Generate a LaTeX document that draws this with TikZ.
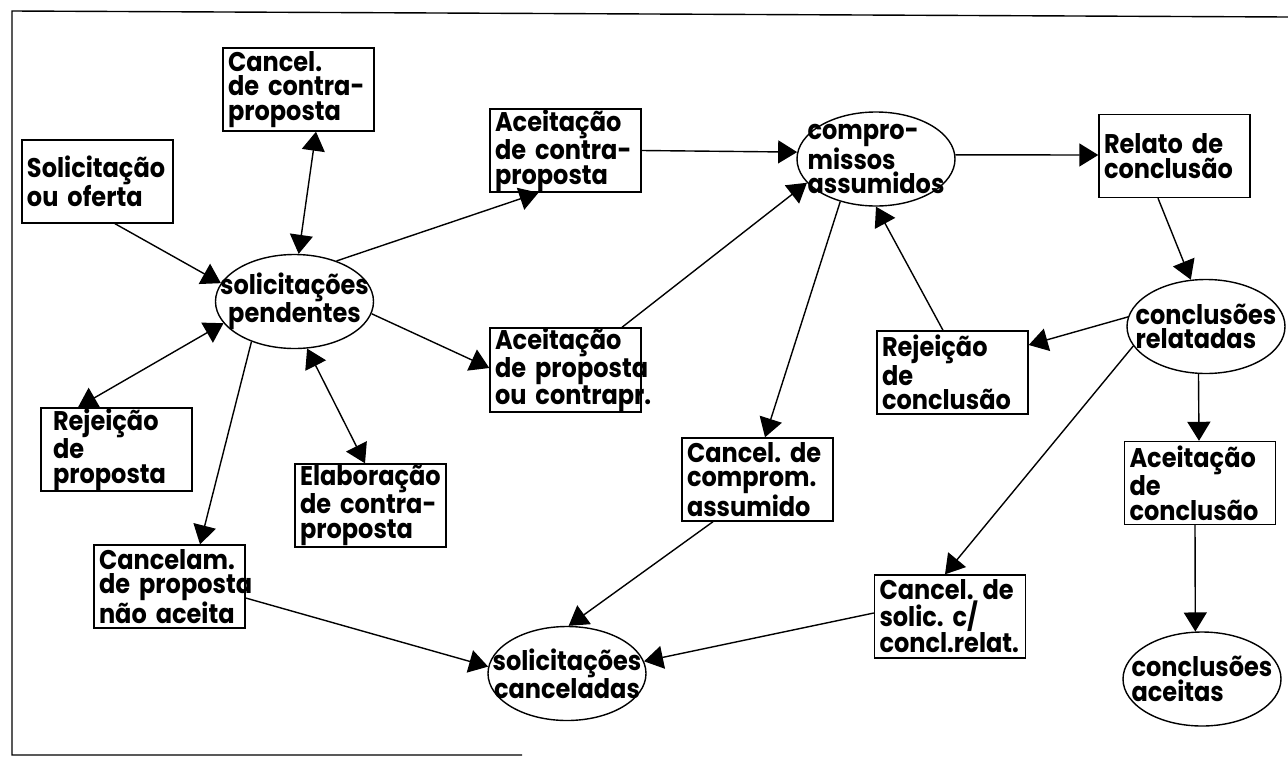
\documentclass[tikz,border=0pt]{standalone}
\usepackage{fontspec}
\setmainfont{Poppins}[FakeStretch=0.89]
\usetikzlibrary{arrows.meta,shapes.geometric}
\hyphenpenalty=10000
\exhyphenpenalty=10000
\begin{document}
\begin{tikzpicture}[x=1pt,y=-1pt,
  txt/.style={font=\fontsize{27}{24.5}\selectfont\bfseries},
  box/.style={txt, draw, line width=1.4pt, rectangle, minimum width=151pt, minimum height=83pt,
    text width=141pt, inner xsep=5pt, inner ysep=0pt, align=left},
  oval/.style={draw, line width=1.4pt, ellipse, minimum width=158pt, minimum height=94pt, inner sep=0pt},
  ovaltext/.style={txt, inner sep=0pt, align=center},
  conn/.style={line width=1.4pt, -{Triangle[length=19pt,width=23pt]}},
  dconn/.style={line width=1.4pt, {Triangle[length=19pt,width=23pt]}-{Triangle[length=19pt,width=23pt]}},
  frame/.style={line width=1.4pt}
]
\useasboundingbox (0,0) rectangle (1288,758);
% frame
\draw[frame] (1288,17) -- (12,11) -- (12,755) -- (522,755);

% boxes
\node[box] (ccp) at (298.5,89.5) {Cancel.\\de~contra-\\proposta};
\node[box] (sol) at (97.5,181.5) {Solicitação\\ou~oferta};
\node[box] (acp) at (565.5,150.5) {Aceitação\\de~contra-\\proposta};
\node[box] (rel) at (1174.5,156) {Relato~de\\conclusão};
\node[box] (rjc) at (952.5,372.5) {Rejeição\\de\\conclusão};
\node[box] (app) at (565.5,370) {Aceitação\\de~proposta\\ou~contrapr.};
\node[box, text width=127pt, inner xsep=12pt] (rjp) at (116.5,449.5) {Rejeição\\de\\proposta};
\node[box] (ela) at (370.5,505.5) {Elaboração\\de~contra-\\proposta};
\node[box] (ccm) at (757.5,479.5) {Cancel.~de\\comprom.\\assumido};
\node[box] (cnp) at (169.5,586.5) {Cancelam.\\de~proposta\\não~aceita};
\node[box] (ccs) at (950,616.5) {Cancel.~de\\solic.~c/\\concl.relat.};
\node[box] (acc) at (1200,483) {Aceitação\\de\\conclusão};

% ellipses
\node[oval] (pend) at (294.5,301.5) {};
\node[ovaltext] (pendt) at (pend.center) {solicitações\\pendentes};
\node[oval] (comp) at (876,159) {};
\node[ovaltext, align=left] (compt) at (comp.center) {compro-\\missos\\assumidos};
\node[oval] (crel) at (1206,326.5) {};
\node[ovaltext, align=left] (crelt) at (crel.center) {conclusões\\relatadas};
\node[oval] (canc) at (567,673.5) {};
\node[ovaltext] (canct) at (canc.center) {solicitações\\canceladas};
\node[oval] (cace) at (1202,679) {};
\node[ovaltext, align=left] (cacet) at (cace.center) {conclusões\\aceitas};

% connectors
\draw[conn] ([xshift=17.5pt]sol.south) -- (pend.166.7);
\draw[dconn] ([xshift=17.5pt]ccp.south) -- (pend.85.5);
\draw[conn] (pend.44.3) -- ([xshift=-27pt]acp.south);
\draw[conn] (pend.-9.8) -- ([yshift=2pt]app.west);
\draw[dconn] (pend.197.2) -- ([xshift=-38.5pt]rjp.north);
\draw[dconn] (pend.285) -- ([xshift=-5.5pt]ela.north);
\draw[conn] (pend.223.7) -- ([xshift=30.5pt]cnp.north);
\draw[conn] ([yshift=-11.5pt]cnp.east) -- (canc.175.3);
\draw[conn] (acp.east) -- (comp.175.6);
\draw[conn] ([xshift=56.5pt]app.north) -- (comp.199.2);
\draw[conn] (comp.3.7) -- ([yshift=1pt]rel.west);
\draw[conn] (comp.230.9) -- ([xshift=7.5pt]ccm.north);
\draw[conn] ([xshift=-44.5pt]ccm.south) -- (canc.88.8);
\draw[conn] ([xshift=-16.5pt]rel.south) -- (crel.108.3);
\draw[conn] (crel.173.9) -- ([yshift=27.5pt]rjc.east);
\draw[conn] ([xshift=-9.5pt]rjc.north) -- (comp.270);
\draw[conn] (crel.195.1) -- ([xshift=-5pt]ccs.north);
\draw[conn] (crel.261.6) -- ([xshift=-1pt]acc.north);
\draw[conn] ([xshift=-5pt]acc.south) -- (cace.98.5);
\draw[conn] ([yshift=3.5pt]ccs.west) -- (canc.9.8);
\end{tikzpicture}
\end{document}
